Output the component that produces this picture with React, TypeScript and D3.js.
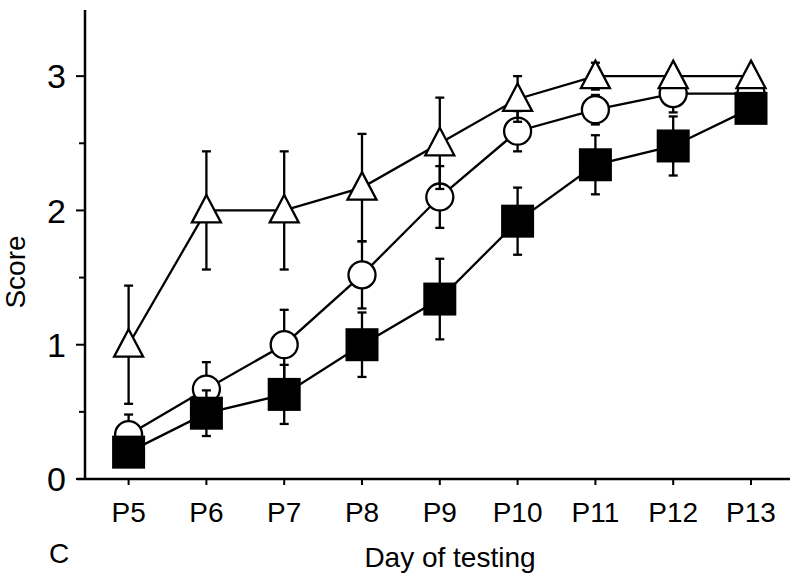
import React from "react";
import * as d3 from "d3";

const days = ["P5", "P6", "P7", "P8", "P9", "P10", "P11", "P12", "P13"];
const triangleMean = [1.0, 2.0, 2.0, 2.17, 2.5, 2.83, 3.0, 3.0, 3.0];
const triangleErr = [0.44, 0.44, 0.44, 0.4, 0.34, 0.17, 0.1, 0, 0];
const circleMean = [0.33, 0.67, 1.0, 1.52, 2.1, 2.59, 2.75, 2.87, 2.87];
const circleErr = [0.15, 0.2, 0.26, 0.25, 0.23, 0.15, 0.11, 0.14, 0];
const squareMean = [0.2, 0.49, 0.63, 1.0, 1.34, 1.92, 2.34, 2.48, 2.76];
const squareErr = [0.08, 0.17, 0.22, 0.24, 0.3, 0.25, 0.22, 0.22, 0];
const yMajorTicks = [0, 1, 2, 3];
const yMinorTicks = [0.5, 1.5, 2.5];

const W = 800;
const H = 580;
const FONT = "Liberation Sans, Arial, sans-serif";
const SW = 2.3;

export default function App() {
  const x = d3.scaleLinear().domain([0, days.length - 1]).range([128.6, 751]);
  const y = d3.scaleLinear().domain([0, 3.5]).range([479, 9]);
  const axisX = 85;
  const axisY = 479;

  const line = d3
    .line<number>()
    .x((_, i) => x(i))
    .y((d) => y(d));

  const errBars = (mean: number[], err: number[], key: string) =>
    mean.map((m, i) =>
      err[i] > 0 ? (
        <g key={key + i} stroke="#000" strokeWidth={SW}>
          <line x1={x(i)} x2={x(i)} y1={y(m - err[i])} y2={y(m + err[i])} />
          <line x1={x(i) - 4.5} x2={x(i) + 4.5} y1={y(m - err[i])} y2={y(m - err[i])} />
          <line x1={x(i) - 4.5} x2={x(i) + 4.5} y1={y(m + err[i])} y2={y(m + err[i])} />
        </g>
      ) : null
    );

  const triPath = (cx: number, cy: number) =>
    `M${cx},${cy - 15.5} L${cx + 14.5},${cy + 12} L${cx - 14.5},${cy + 12} Z`;

  return (
    <svg width={W} height={H} style={{ display: "block", position: "absolute", left: 0, top: 0 }}>
      <rect width={W} height={H} fill="#fff" />
      {/* axes */}
      <line x1={axisX} x2={axisX} y1={10} y2={axisY} stroke="#000" strokeWidth={2.5} />
      <line x1={77} x2={790} y1={axisY} y2={axisY} stroke="#000" strokeWidth={2.5} />
      {yMajorTicks.map((t) => (
        <g key={"ym" + t}>
          <line x1={axisX - 9} x2={axisX} y1={y(t)} y2={y(t)} stroke="#000" strokeWidth={2} />
          <text
            x={66}
            y={y(t)}
            dy="0.36em"
            textAnchor="end"
            fontFamily={FONT}
            fontSize={34}
            fill="#000"
          >
            {t}
          </text>
        </g>
      ))}
      {yMinorTicks.map((t) => (
        <line key={"yn" + t} x1={axisX - 6} x2={axisX} y1={y(t)} y2={y(t)} stroke="#000" strokeWidth={2} />
      ))}
      {days.map((d, i) => (
        <g key={"xt" + d}>
          <line x1={x(i)} x2={x(i)} y1={axisY} y2={axisY + 6} stroke="#000" strokeWidth={2} />
          <text x={x(i)} y={522} textAnchor="middle" fontFamily={FONT} fontSize={28} fill="#000">
            {d}
          </text>
        </g>
      ))}
      <text x={450} y={567} textAnchor="middle" fontFamily={FONT} fontSize={28} fill="#000">
        Day of testing
      </text>
      <text x={49} y={563} fontFamily={FONT} fontSize={28} fill="#000">
        C
      </text>
      <text
        transform="translate(25,272) rotate(-90)"
        textAnchor="middle"
        fontFamily={FONT}
        fontSize={28}
        fill="#000"
      >
        Score
      </text>

      {/* circle series */}
      <path d={line(circleMean) || ""} fill="none" stroke="#000" strokeWidth={SW} />
      {errBars(circleMean, circleErr, "ce")}
      {circleMean.map((m, i) => (
        <circle key={"c" + i} cx={x(i)} cy={y(m)} r={13.5} fill="#fff" stroke="#000" strokeWidth={SW} />
      ))}

      {/* triangle series */}
      <path d={line(triangleMean) || ""} fill="none" stroke="#000" strokeWidth={SW} />
      {errBars(triangleMean, triangleErr, "te")}
      {triangleMean.map((m, i) => (
        <path key={"t" + i} d={triPath(x(i), y(m))} fill="#fff" stroke="#000" strokeWidth={SW} strokeLinejoin="miter" />
      ))}

      {/* square series */}
      <path d={line(squareMean) || ""} fill="none" stroke="#000" strokeWidth={SW} />
      {errBars(squareMean, squareErr, "se")}
      {squareMean.map((m, i) => (
        <rect key={"s" + i} x={x(i) - 16.5} y={y(m) - 16.5} width={33} height={33} fill="#000" />
      ))}
    </svg>
  );
}
